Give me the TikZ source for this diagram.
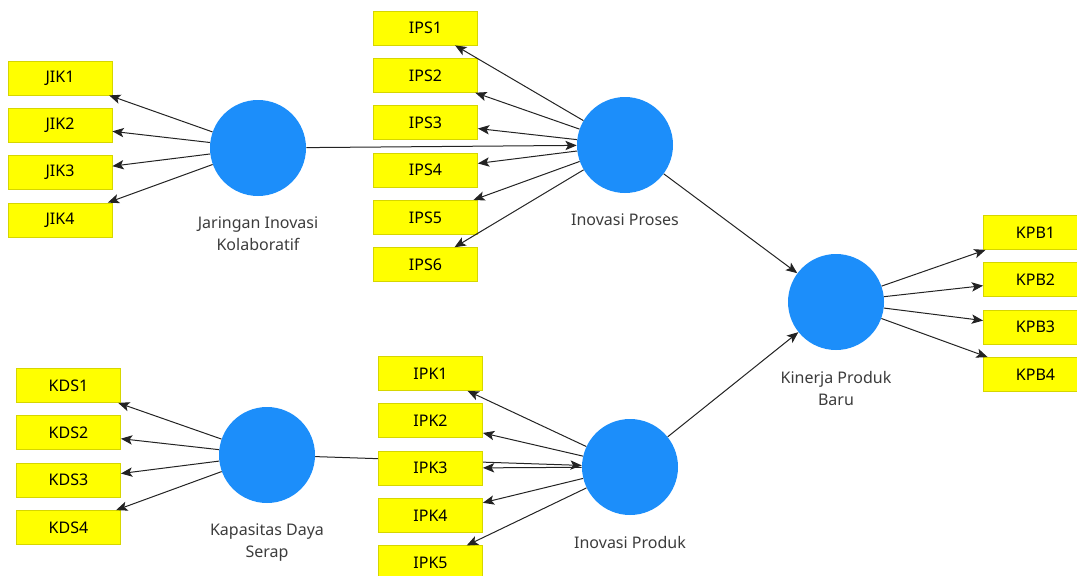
\documentclass[tikz,border=0pt]{standalone}
\usepackage{fontspec}
\setmainfont{Noto Sans}
\usetikzlibrary{shapes.geometric, arrows.meta, positioning, backgrounds}
\definecolor{latentblue}{RGB}{28,142,250}
\definecolor{itemyellow}{RGB}{255,255,0}
\definecolor{itemedge}{RGB}{214,214,0}
\definecolor{linegray}{RGB}{35,35,35}
\definecolor{namegray}{RGB}{60,60,60}
\tikzstyle{construct} = [circle, minimum size=72pt, inner sep=0pt, fill=latentblue]
\tikzstyle{indicator} = [rectangle, minimum width=78pt, minimum height=25.5pt, text centered, draw=itemedge, line width=0.6pt, fill=itemyellow, font=\fontsize{12}{14}\selectfont]
\tikzstyle{latentname} = [text centered, align=center, text=namegray, font=\fontsize{12}{16.5}\selectfont]
\tikzstyle{arrow} = [line width=0.75pt, draw=linegray, -{Stealth[length=8.5pt, width=7pt, inset=2pt]}]

\begin{document}
\begin{tikzpicture}[x=0.75pt, y=-0.75pt, node distance=35.5pt]
	\useasboundingbox (0,0) rectangle (1077,575);
	\clip (0,0) rectangle (1077,575);

		\node (jik) [construct] at (258,148) {};
		\node (kds) [construct] at (267,455) {};
		\node (ips) [construct] at (625,145) {};
		\node (ipk) [construct] at (630,467) {};
		\node (kpb) [construct] at (836,302) {};

		\node (jik-name) [latentname, below=12pt of jik] {Jaringan Inovasi\\Kolaboratif};
		\node (kds-name) [latentname, below=12pt of kds] {Kapasitas Daya\\Serap};
		\node (ips-name) [latentname, below=12pt of ips] {Inovasi Proses};
		\node (ipk-name) [latentname, below=12pt of ipk] {Inovasi Produk};
		\node (kpb-name) [latentname, below=12pt of kpb] {Kinerja Produk\\Baru};

		\node (jik1) [indicator] at (60,78) {JIK1};
		\node (jik2) [indicator, below of=jik1] {JIK2};
		\node (jik3) [indicator, below of=jik2] {JIK3};
		\node (jik4) [indicator, below of=jik3] {JIK4};

		\node (kds1) [indicator] at (68.5,385.5) {KDS1};
		\node (kds2) [indicator, below of=kds1] {KDS2};
		\node (kds3) [indicator, below of=kds2] {KDS3};
		\node (kds4) [indicator, below of=kds3] {KDS4};

		\node (ips1) [indicator] at (425.5,28) {IPS1};
		\node (ips2) [indicator, below of=ips1] {IPS2};
		\node (ips3) [indicator, below of=ips2] {IPS3};
		\node (ips4) [indicator, below of=ips3] {IPS4};
		\node (ips5) [indicator, below of=ips4] {IPS5};
		\node (ips6) [indicator, below of=ips5] {IPS6};

		\node (ipk1) [indicator] at (430.5,373.5) {IPK1};
		\node (ipk2) [indicator, below of=ipk1] {IPK2};
		\node (ipk3) [indicator, below of=ipk2] {IPK3};
		\node (ipk4) [indicator, below of=ipk3] {IPK4};
		\node (ipk5) [indicator, below of=ipk4] {IPK5};

		\node (kpb1) [indicator] at (1035.5,232.5) {KPB1};
		\node (kpb2) [indicator, below of=kpb1] {KPB2};
		\node (kpb3) [indicator, below of=kpb2] {KPB3};
		\node (kpb4) [indicator, below of=kpb3] {KPB4};

		% inner model, behind the boxes
		\begin{scope}[on background layer]
		\draw[arrow] (jik) -- (ips);
		\draw[arrow] (kds) -- (ipk);
		\draw[arrow] (ips) -- (kpb);
		\draw[arrow] (ipk) -- (kpb);
		\end{scope}

		% outer model
		\draw[arrow] (jik) -- (jik1);
		\draw[arrow] (jik) -- (jik2);
		\draw[arrow] (jik) -- (jik3);
		\draw[arrow] (jik) -- (jik4);
		\draw[arrow] (kds) -- (kds1);
		\draw[arrow] (kds) -- (kds2);
		\draw[arrow] (kds) -- (kds3);
		\draw[arrow] (kds) -- (kds4);
		\draw[arrow] (ips) -- (ips1);
		\draw[arrow] (ips) -- (ips2);
		\draw[arrow] (ips) -- (ips3);
		\draw[arrow] (ips) -- (ips4);
		\draw[arrow] (ips) -- (ips5);
		\draw[arrow] (ips) -- (ips6);
		\draw[arrow] (ipk) -- (ipk1);
		\draw[arrow] (ipk) -- (ipk2);
		\draw[arrow] (ipk) -- (ipk3);
		\draw[arrow] (ipk) -- (ipk4);
		\draw[arrow] (ipk) -- (ipk5);
		\draw[arrow] (kpb) -- (kpb1);
		\draw[arrow] (kpb) -- (kpb2);
		\draw[arrow] (kpb) -- (kpb3);
		\draw[arrow] (kpb) -- (kpb4);
	\end{tikzpicture}
\end{document}
